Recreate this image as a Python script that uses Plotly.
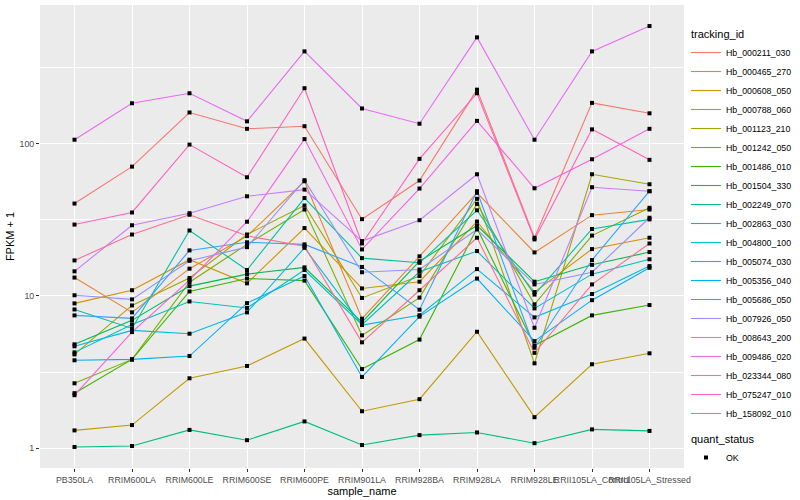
import numpy as np
import plotly.graph_objects as go

# ---- data (FPKM + 1) ----
samples = ["PB350LA", "RRIM600LA", "RRIM600LE", "RRIM600SE", "RRIM600PE",
           "RRIM901LA", "RRIM928BA", "RRIM928LA", "RRIM928LE",
           "RRII105LA_Control", "RRII105LA_Stressed"]

tracking_ids = ["Hb_000211_030", "Hb_000465_270", "Hb_000608_050", "Hb_000788_060",
                "Hb_001123_210", "Hb_001242_050", "Hb_001486_010", "Hb_001504_330",
                "Hb_002249_070", "Hb_002863_030", "Hb_004800_100", "Hb_005074_030",
                "Hb_005356_040", "Hb_005686_050", "Hb_007926_050", "Hb_008643_200",
                "Hb_009486_020", "Hb_023344_080", "Hb_075247_010", "Hb_158092_010"]

Hb_000211_030 = [40.4, 70.6, 160, 125, 130, 31.9, 57.2, 226, 24.1, 185, 158]
Hb_000465_270 = [13.2, 7.80, 15.1, 24.7, 56.6, 7.09, 18.2, 47.5, 19.3, 33.9, 36.9]
Hb_000608_050 = [8.93, 10.9, 17.3, 12.1, 27.9, 11.2, 12.4, 30.8, 10.6, 20.3, 24.1]
Hb_000788_060 = [1.31, 1.42, 2.88, 3.47, 5.25, 1.75, 2.10, 5.82, 1.60, 3.56, 4.20]
Hb_001123_210 = [4.13, 8.66, 13.1, 25.3, 39.2, 9.70, 13.5, 43.4, 3.61, 62.9, 54.1]
Hb_001242_050 = [2.67, 3.83, 12.3, 21.8, 36.9, 5.51, 9.75, 40.2, 8.80, 24.9, 37.9]
Hb_001486_010 = [2.30, 3.83, 10.7, 13.0, 12.6, 3.31, 5.17, 27.8, 4.73, 7.45, 8.71]
Hb_001504_330 = [4.81, 6.91, 11.6, 13.9, 15.4, 6.73, 16.9, 29.0, 12.4, 16.0, 19.4]
Hb_002249_070 = [1.02, 1.035, 1.32, 1.13, 1.50, 1.05, 1.22, 1.27, 1.08, 1.33, 1.30]
Hb_002863_030 = [8.15, 6.12, 26.9, 14.8, 43.9, 17.7, 16.5, 36.5, 10.2, 27.5, 31.8]
Hb_004800_100 = [4.26, 6.50, 9.20, 8.34, 14.8, 6.47, 14.4, 19.7, 8.28, 13.9, 17.4]
Hb_005074_030 = [4.67, 5.94, 5.65, 7.80, 20.7, 6.44, 7.47, 15.0, 7.23, 10.3, 15.7]
Hb_005356_040 = [3.78, 3.83, 4.03, 8.97, 13.5, 2.94, 7.31, 13.0, 5.05, 9.38, 15.3]
Hb_005686_050 = [7.45, 7.12, 19.9, 22.5, 21.8, 15.5, 8.12, 48.7, 4.57, 17.2, 48.7]
Hb_007926_050 = [10.1, 9.49, 17.0, 20.9, 57.5, 14.3, 14.9, 27.3, 11.9, 14.3, 32.6]
Hb_008643_200 = [14.5, 29.1, 34.9, 45.1, 49.9, 22.9, 31.4, 62.9, 6.18, 51.7, 48.7]
Hb_009486_020 = [106, 184, 214, 140, 403, 170, 135, 498, 106, 403, 591]
Hb_023344_080 = [2.23, 5.79, 12.7, 30.7, 107, 20.2, 50.7, 141, 50.9, 78.9, 125]
Hb_075247_010 = [29.4, 35.3, 98.5, 60.1, 231, 22.1, 79.4, 214, 23.5, 124, 78.2]
Hb_158092_010 = [17.1, 25.3, 34.1, 24.8, 21.2, 4.96, 10.9, 24.1, 4.23, 11.9, 22.1]

series = [Hb_000211_030, Hb_000465_270, Hb_000608_050, Hb_000788_060, Hb_001123_210,
          Hb_001242_050, Hb_001486_010, Hb_001504_330, Hb_002249_070, Hb_002863_030,
          Hb_004800_100, Hb_005074_030, Hb_005356_040, Hb_005686_050, Hb_007926_050,
          Hb_008643_200, Hb_009486_020, Hb_023344_080, Hb_075247_010, Hb_158092_010]

quant_status = "OK"

# ---- styles (ggplot2 default hue palette, 20 levels) ----
colors = ["#F8766D", "#EA8331", "#D89000", "#C09B00", "#A3A500", "#7CAE00", "#39B600",
          "#00BB4E", "#00BF7D", "#00C1A3", "#00BFC4", "#00BAE0", "#00B0F6", "#35A2FF",
          "#9590FF", "#C77CFF", "#E76BF3", "#FA62DB", "#FF62BC", "#FF6C91"]

FONT = "Liberation Sans, Arial, sans-serif"

fig = go.Figure()
for name, vals, col in zip(tracking_ids, series, colors):
    fig.add_trace(go.Scatter(
        x=samples, y=vals, mode="lines", name=name,
        line=dict(color=col, width=1.1),
        legendgroup="tid", legendgrouptitle=dict(text="tracking_id",
                                                 font=dict(size=11, color="black")),
        hoverinfo="skip"))

all_x = [s for _ in series for s in samples]
all_y = [v for vals in series for v in vals]
fig.add_trace(go.Scatter(
    x=all_x, y=all_y, mode="markers", name=quant_status,
    marker=dict(symbol="square", size=4, color="black"),
    legendgroup="qs", legendgrouptitle=dict(text="quant_status",
                                            font=dict(size=11, color="black")),
    hoverinfo="skip"))

# ggplot-like 5% expansion on log scale
lo, hi = np.log10(min(all_y)), np.log10(max(all_y))
pad = 0.05 * (hi - lo)

fig.update_layout(
    width=800, height=500,
    margin=dict(l=40, r=116, t=5, b=32, autoexpand=False),
    paper_bgcolor="white", plot_bgcolor="#EBEBEB",
    font=dict(family=FONT, size=9, color="black"),
    legend=dict(x=686 / 800, xref="container", y=0.962, yref="container",
                xanchor="left", yanchor="top", traceorder="grouped",
                tracegroupgap=6, itemwidth=30, maxheight=495,
                font=dict(size=8.8, color="black"), bgcolor="rgba(0,0,0,0)"),
    showlegend=True,
)
fig.update_xaxes(
    type="category", categoryorder="array", categoryarray=samples,
    range=[-0.6, len(samples) - 0.4],
    showgrid=True, gridcolor="white", gridwidth=1.1, zeroline=False, showline=False,
    ticks="outside", ticklen=3, tickcolor="#333333", tickwidth=1,
    tickangle=0, tickfont=dict(size=8.8, color="#4D4D4D"),
    title=dict(text="sample_name", font=dict(size=11, color="black"), standoff=2),
    automargin=False)
fig.update_yaxes(
    type="log", range=[lo - pad, hi + pad],
    tickmode="array", tickvals=[1, 10, 100], ticktext=["1", "10", "100"],
    showgrid=True, gridcolor="white", gridwidth=1.1, zeroline=False, showline=False,
    ticks="outside", ticklen=3, tickcolor="#333333", tickwidth=1,
    tickfont=dict(size=8.8, color="#4D4D4D"),
    minor=dict(tickmode="array", tickvals=[10 ** 0.5, 10 ** 1.5, 10 ** 2.5],
               showgrid=True, gridcolor="white", gridwidth=0.55, ticks=""),
    title=dict(text="FPKM + 1", font=dict(size=11, color="black"), standoff=2),
    automargin=False)

fig.write_html("out.html",
               config={"displayModeBar": False},
               post_script="document.body.style.margin='0';document.body.style.overflow='hidden';")
